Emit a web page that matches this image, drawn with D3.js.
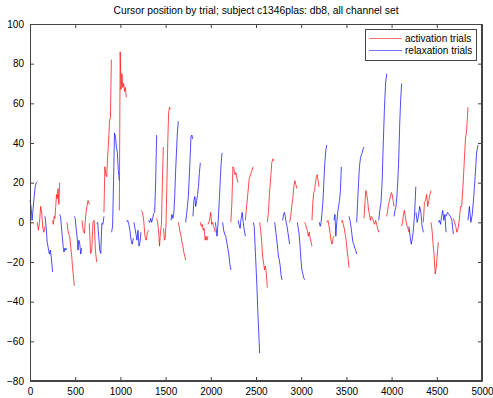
<!DOCTYPE html>
<html><head><meta charset="utf-8">
<script src="https://cdn.jsdelivr.net/npm/d3@7"></script>
<style>body{margin:0;background:#fff}svg{display:block;font-family:"Liberation Sans",Arial,sans-serif}</style>
</head><body><svg id="c" width="493" height="398"></svg>
<script>
const titleText = "Cursor position by trial; subject c1346plas: db8, all channel set";
const xTicks = [0,500,1000,1500,2000,2500,3000,3500,4000,4500,5000];
const yTicks = [-80,-60,-40,-20,0,20,40,60,80,100];
const legendLabels = ["activation trials","relaxation trials"];
// 'a' = activation (red), 'r' = relaxation (blue)
const trialType  = ['r','a','r','a','r','a','r','a','a','r','a','r','a','r','r','a','r','a','a','r','a','r','r','a','a','r','r','a','r','a','r','a','a','r','r','a','r','a','a','r','a','r','a','r','r','a','a','r','a','r','a','r','r','a','a','r','r','a','a','r'];
const trialStart = [0,81,166,250,328,409,490,575,656,737,818,903,988,1068,1150,1230,1313,1401,1477,1560,1640,1722,1803,1884,1969,2050,2131,2222,2301,2382,2470,2541,2625,2707,2795,2872,2957,3038,3119,3200,3285,3363,3444,3529,3614,3695,3779,3857,3946,4027,4111,4192,4270,4351,4436,4517,4602,4683,4775,4845];
const trialEnd   = [81,166,250,328,405,490,571,656,737,818,900,988,1065,1143,1228,1313,1401,1475,1552,1640,1722,1800,1884,1969,2050,2124,2222,2301,2382,2468,2540,2625,2699,2788,2872,2953,3038,3119,3197,3282,3363,3444,3529,3614,3695,3775,3857,3946,4027,4111,4192,4268,4351,4436,4517,4602,4683,4775,4845,4956];
const trialValues = [
 [11,8,1,7,13,18,20,20.5],
 [0,-4,0,8,5,-3,-5,-2],
 [3,-2,-10,-13,-16,-14,-19,-25],
 [1,-1,3,2,8,14,12,17,9,20],
 [4,3,-2,-7,-12,-15,-13,-14,-13],
 [0,-4,-6,-7,-12,-16,-22,-27,-32],
 [3,2,-3,-7,-14,-9,-11,-16,-13],
 [1,-4,-5.5,3,8,11,9],
 [-0.5,-15.7,-14,0,1,-14,-20],
 [-0.5,0,-7,-14,-15.7,-0.5,-1,3],
 [5,28,24,23,33,41,51,53,82],
 [-5,-2,21,45,43,38,35,26,21],
 [6,86,67,75,68,70,66,68,63],
 [0.3,1,-1,-4,-9,-11,-8],
 [0,-3,-6,-9,-4,-12,-10,-5],
 [6,5,1,-7,-9,-5,-4],
 [1,0,2,0,2,4.5,5,20,44],
 [2,0,-4,-12,-5,-1,20,38],
 [-3,-9,-8,0,20,40,55,58,57],
 [1,4,2,4,12,25,35,45,51],
 [0,-2,-5,-7,-10,-12,-15,-17,-19],
 [0,4,8,13,22,32,43,44,42],
 [3,11,13,8,11,14,18,25,30],
 [0,-2,-1,-4,-3,-9,-7,-9,-7],
 [-1,0,2,5,-1,0,-2,-3,-5],
 [0,-3,-7,-2,5,13,22,30,35],
 [0,-4,-6,-7,-10,-13,-16,-21,-24],
 [0,10,28,27,24,25,22,20],
 [1,-1,-3,2,5,0,-4,-7],
 [1,8,15,22,24,26,28],
 [0,-2,-12,-22,-32,-45,-55,-66],
 [0,-4,-9,-17,-20,-24,-22,-26,-33],
 [0,5,15,22,30,32,31],
 [0,-4,-8,-12,-17,-19,-22,-27,-29],
 [1,4,5,3,0,-2,-5,-8,-11],
 [0,3,8,12,18,21,19,17],
 [0,-3,-6,-12,-19,-24,-26,-28,-29],
 [0,-1,-3,-4,-7,-5,-8,-10,-12],
 [1,10,15,16,20,23,24,21,18],
 [0,-2,0,5,11,21,30,36,39],
 [0,1,-2,-5,-9,-11,-8,-7],
 [1,4,-7,0,5,8,11,16,28],
 [0,1,-1,-3,-6,-9,-14,-18,-23],
 [3,1,-2,-6,-10,-11,-13,-14,-16],
 [0,10,20,28,32,34,35,37,38],
 [2,10,16,14,11,6,4,1,3],
 [3,2,0,-1,1,-1,-3,-5],
 [1,6,10,20,40,57,70,75],
 [3,6,9,11,13,15,14,11,8],
 [3,6,8,13,21,33,50,62,70],
 [-2,0,4,6,3,0,-2,-3,-5],
 [-2,-7,-11,-8,-3,5,18],
 [5,0,3,8,5,-2,-5],
 [0,10,11,14,8,11,14,16],
 [0,-4,-11,-17,-26,-23,-16,-10],
 [0,1,-1,3,6,1,4,-5],
 [3,5,4,3,1,-6],
 [2,0,-2,-5,-3,1,8,8],
 [8,18,30,42,47,58],
 [1,8,0,4,13,23,35,39]
];
const colors = {a:"#ff0000", r:"#0000ff"};

const svg = d3.select("#c");
const L=30, R=482, T=24, B=381;
const x = d3.scaleLinear().domain([0,5000]).range([L,R]);
const y = d3.scaleLinear().domain([-80,100]).range([B,T]);

// title
svg.append("text").attr("x",256).attr("y",14).attr("text-anchor","middle")
  .attr("font-size",10.3).attr("fill","#000").text(titleText);

// traces
const line = d3.line().x(d=>x(d[0])).y(d=>y(d[1]));
const g = svg.append("g");
trialValues.forEach((vals,i)=>{
  const s=trialStart[i], e=trialEnd[i], n=vals.length;
  const pts = vals.map((v,j)=>[s+(e-s)*j/(n-1), v]);
  g.append("path").attr("d",line(pts)).attr("fill","none")
    .attr("stroke",colors[trialType[i]]).attr("stroke-width",0.7);
});

// axes (MATLAB style: inward ticks, box)
const ax = svg.append("g");
const xb = d3.axisBottom(x).tickValues(xTicks).tickSizeInner(-4).tickSizeOuter(0).tickPadding(7).tickFormat(d3.format("d"));
const xt = d3.axisTop(x).tickValues(xTicks).tickSizeInner(-4).tickSizeOuter(0).tickFormat("");
const yl = d3.axisLeft(y).tickValues(yTicks).tickSizeInner(-4).tickSizeOuter(0).tickPadding(6).tickFormat(d3.format("d"));
const yr = d3.axisRight(y).tickValues(yTicks).tickSizeInner(-4).tickSizeOuter(0).tickFormat("");
[[xb,`translate(0,${B})`],[xt,`translate(0,${T})`],[yl,`translate(${L},0)`],[yr,`translate(${R},0)`]].forEach(([a,t])=>{
  const gg = ax.append("g").attr("transform",t).call(a);
  gg.selectAll("path,line").attr("stroke","#444");
  gg.selectAll("text").attr("fill","#000").attr("font-family","'Liberation Sans',Arial,sans-serif").attr("font-size",10);
});
svg.append("rect").attr("x",L+0.5).attr("y",T+0.5).attr("width",R-L-1).attr("height",B-T-1)
  .attr("fill","none").attr("stroke","#444").attr("stroke-width",1);

// legend
const lg = svg.append("g");
lg.append("rect").attr("x",365.5).attr("y",29.5).attr("width",111).attr("height",31)
  .attr("fill","#fff").attr("stroke","#444");
legendLabels.forEach((lab,i)=>{
  const yy = 38.5 + i*12;
  lg.append("line").attr("x1",369).attr("x2",402).attr("y1",yy).attr("y2",yy)
    .attr("stroke",colors[i===0?'a':'r']).attr("stroke-opacity",0.55);
  lg.append("text").attr("x",405).attr("y",yy+3.5).attr("font-size",10).attr("fill","#000").text(lab);
});
</script></body></html>
